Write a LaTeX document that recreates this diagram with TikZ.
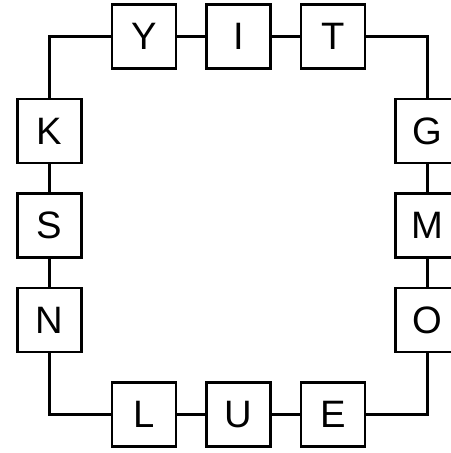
\documentclass[tikz,border=0pt]{standalone}
\usepackage{fontspec}
\setmainfont{Liberation Sans}
\usepackage{tikz}

\tikzset{
  letterbox/.style={draw,line width=1.7pt,minimum size=1.354cm,inner sep=0pt,
    font=\fontsize{23}{27}\selectfont},
  link/.style={line width=1.7pt}
}

\begin{document}
\begin{tikzpicture}
  \useasboundingbox (-5.048,-4.815) rectangle (4.476,4.772);
  % boxes round the ring
  \foreach \name/\x/\y in {Y/-2/4, I/0/4, T/2/4,
    G/4/2, M/4/0, O/4/-2,
    E/2/-4, U/0/-4, L/-2/-4,
    N/-4/-2, S/-4/0, K/-4/2}
  {
    \node[letterbox] (\name) at (\x,\y) {\name};
  }
  % top row and corners
  \draw[link] (Y) -- (I);
  \draw[link] (I) -- (T);
  \draw[link] (T) -| (G);
  % right side
  \draw[link] (G) -- (M);
  \draw[link] (M) -- (O);
  \draw[link] (O) |- (E);
  % bottom row
  \draw[link] (E) -- (U);
  \draw[link] (U) -- (L);
  \draw[link] (L) -| (N);
  % left side
  \draw[link] (N) -- (S);
  \draw[link] (S) -- (K);
  \draw[link] (K) |- (Y);
\end{tikzpicture}
\end{document}
